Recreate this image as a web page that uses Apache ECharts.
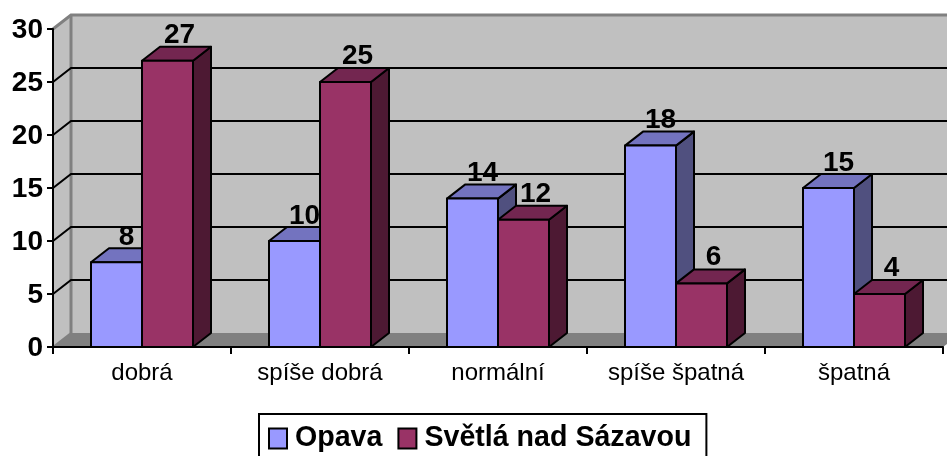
<!DOCTYPE html>
<html><head><meta charset="utf-8">
<style>html,body{margin:0;padding:0;background:#fff}#c{width:947px;height:456px}</style>
<script src="https://cdn.jsdelivr.net/npm/echarts@6/dist/echarts.min.js"></script>
</head><body><div id="c"></div>
<script>
const categories = ['dobrá','spíše dobrá','normální','spíše špatná','špatná'];
// Bar heights as drawn in the picture
const opava = [8,10,14,19,15];
const svetla = [27,25,12,6,5];
// Value labels as printed in the picture
const opavaLabels = ['8','10','14','18','15'];
const svetlaLabels = ['27','25','12','6','4'];
const yTicks = [0,5,10,15,20,25,30];
const DX = 18, DY = -14, BARW = 51;
const FONT = '"Liberation Sans", Arial, sans-serif';

function barRender(offset, labels, labelGap, labelShift, front, top, side) {
  return function (params, api) {
    const i = api.value(0), v = api.value(1);
    const base = api.coord([i, 0]), p = api.coord([i, v]);
    const x0 = base[0] + offset * BARW, x1 = x0 + BARW, y0 = base[1], y1 = p[1];
    const st = c => ({ fill: c, stroke: '#000', lineWidth: 2, lineJoin: 'round' });
    return { type: 'group', children: [
      { type:'polygon', shape:{points:[[x1,y0],[x1+DX,y0+DY],[x1+DX,y1+DY],[x1,y1]]}, style:st(side) },
      { type:'polygon', shape:{points:[[x0,y1],[x0+DX,y1+DY],[x1+DX,y1+DY],[x1,y1]]}, style:st(top) },
      { type:'rect', shape:{x:x0,y:y1,width:BARW,height:y0-y1}, style:st(front) },
      { type:'text', x:x0+BARW/2+DX/2+labelShift, y:y1-labelGap, style:{ text:labels[i], font:'bold 28px '+FONT, fill:'#000', align:'center', verticalAlign:'middle' } }
    ]};
  };
}
function wallRender(params, api) {
  const v = api.value(1), cs = params.coordSys;
  const L = cs.x, R = cs.x + cs.width, y0 = api.coord([0,0])[1], y = api.coord([0,v])[1], y30 = cs.y;
  const gray = '#808080', kids = [];
  if (params.dataIndex === 0) {
    kids.push(
      { type:'rect', shape:{x:L+DX,y:y30+DY,width:R-L,height:y0-y30}, style:{fill:'#c0c0c0'} },
      { type:'polygon', shape:{points:[[L,y0],[L+DX,y0+DY],[L+DX,y30+DY],[L,y30]]}, style:{fill:'#c0c0c0'} },
      { type:'polygon', shape:{points:[[L,y0],[R,y0],[R+DX,y0+DY],[L+DX,y0+DY]]}, style:{fill:gray} },
      { type:'polyline', shape:{points:[[L,y30],[L+DX,y30+DY],[R+DX,y30+DY]]}, style:{fill:'none',stroke:gray,lineWidth:3} },
      { type:'line', shape:{x1:L+DX,y1:y30+DY,x2:L+DX,y2:y0+DY}, style:{stroke:gray,lineWidth:3} },
      { type:'line', shape:{x1:L,y1:y0,x2:L+DX,y2:y0+DY}, style:{stroke:gray,lineWidth:2} }
    );
  } else if (v < 30) {
    kids.push({ type:'polyline', shape:{points:[[L,y],[L+DX,y+DY],[R+DX,y+DY]]}, style:{fill:'none',stroke:'#000',lineWidth:2} });
  }
  return { type:'group', children:kids };
}

const chart = echarts.init(document.getElementById('c'), null, {renderer:'canvas'});
chart.setOption({
  animation:false,
  backgroundColor:'#fff',
  grid:{left:53,right:4,top:29,bottom:109,containLabel:false},
  legend:{
    left:259, top:414, orient:'horizontal',
    data:[{name:'Opava',icon:'rect'},{name:'Světlá nad Sázavou',icon:'rect'}],
    backgroundColor:'#fff', borderColor:'#000', borderWidth:2,
    padding:[10,15,14,9], itemWidth:18, itemHeight:20, itemGap:15,
    textStyle:{fontFamily:FONT,fontWeight:'bold',fontSize:28.6,color:'#000',padding:[0,0,0,3]}
  },
  xAxis:{type:'category',data:categories,z:5,
    axisLine:{lineStyle:{color:'#000',width:2}},
    axisTick:{show:true,alignWithLabel:false,length:7,lineStyle:{color:'#000',width:2}},
    axisLabel:{fontFamily:FONT,fontSize:24,color:'#000',margin:14,interval:0},
    splitLine:{show:false}},
  yAxis:{type:'value',min:0,max:30,interval:5,z:5,
    axisLine:{show:true,lineStyle:{color:'#000',width:2}},
    axisTick:{show:true,length:6,lineStyle:{color:'#000',width:2}},
    axisLabel:{fontFamily:FONT,fontWeight:'bold',fontSize:28,color:'#000',margin:10,verticalAlign:'top',lineHeight:3},
    splitLine:{show:false}},
  series:[
    {type:'custom',name:'walls',silent:true,z:1,renderItem:wallRender,clip:false,
      data:yTicks.map(v=>[0,v]),encode:{x:0,y:1}},
    {type:'custom',name:'Opava',z:2,renderItem:barRender(-1,opavaLabels,25,1,'#9999ff','#7373bf','#50507f'),clip:false,
      itemStyle:{color:'#9999ff',borderColor:'#000',borderWidth:2},
      data:opava.map((v,i)=>[i,v]),encode:{x:0,y:1}},
    {type:'custom',name:'Světlá nad Sázavou',z:3,renderItem:barRender(0,svetlaLabels,26,3,'#993366','#732650','#4d1933'),clip:false,
      itemStyle:{color:'#993366',borderColor:'#000',borderWidth:2},
      data:svetla.map((v,i)=>[i,v]),encode:{x:0,y:1}}
  ]
});
</script></body></html>
